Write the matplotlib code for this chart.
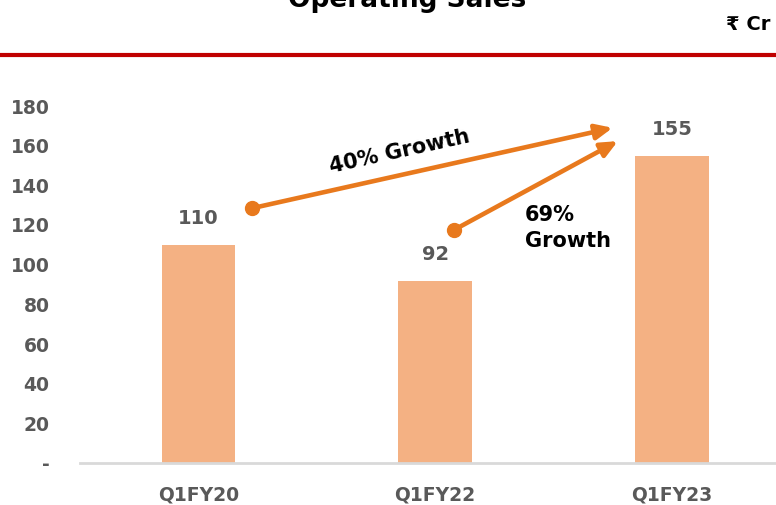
import matplotlib
matplotlib.use("Agg")
import matplotlib.pyplot as plt
from matplotlib.ticker import FuncFormatter
from matplotlib.lines import Line2D

categories = ["Q1FY20", "Q1FY22", "Q1FY23"]
sales = [110, 92, 155]
yticks = [0, 20, 40, 60, 80, 100, 120, 140, 160, 180]

bar_color = "#F4B183"
arrow_color = "#E8791D"
label_gray = "#595959"

plt.rcParams.update({
    "font.family": ["DejaVu Sans"],
    "font.weight": "bold",
})

fig = plt.figure(figsize=(7.76, 5.05), dpi=100)
ax = fig.add_axes([80 / 776, 42 / 505, 696 / 776, 357 / 505])

x = range(len(categories))
ax.bar(x, sales, width=0.31, color=bar_color, zorder=2)

for xi, v in zip(x, sales):
    ax.annotate(str(v), (xi, v), xytext=(0, 12), textcoords="offset points",
                ha="center", va="bottom", fontsize=14, fontweight="bold",
                color=label_gray)

ax.set_xlim(-0.5, 2.44)
ax.set_ylim(0, 180)
ax.set_yticks(yticks)
ax.yaxis.set_major_formatter(FuncFormatter(lambda v, p: "-" if v == 0 else f"{v:.0f}"))
ax.set_xticks(list(x))
ax.set_xticklabels(categories)
ax.tick_params(axis="y", length=0, pad=22, labelsize=13.5, labelcolor=label_gray)
ax.tick_params(axis="x", length=0, pad=16, labelsize=13.5, labelcolor=label_gray)
for lab in ax.get_xticklabels() + ax.get_yticklabels():
    lab.set_fontweight("bold")

for s in ["top", "right", "left"]:
    ax.spines[s].set_visible(False)
ax.spines["bottom"].set_color("#D9D9D9")
ax.spines["bottom"].set_linewidth(2)

# growth arrows
arrows = [((0.228, 128.5), (1.75, 169.0)), ((1.078, 117.4), (1.772, 162.3))]
for start, end in arrows:
    ax.annotate("", xy=end, xytext=start,
                arrowprops=dict(arrowstyle="-|>,head_length=1.0,head_width=0.45",
                                color=arrow_color, lw=3.3, shrinkA=0, shrinkB=0),
                annotation_clip=False, zorder=4)
    ax.plot(*start, "o", color=arrow_color, markersize=10, zorder=5, clip_on=False)

fig.text(400 / 776, 1 - 152 / 505, "40% Growth", rotation=12.5, ha="center", va="center",
         fontsize=15, fontweight="bold", color="black")
fig.text(525 / 776, 1 - 228 / 505, "69%\nGrowth", ha="left", va="center",
         fontsize=15, fontweight="bold", color="black", linespacing=1.35)

# header (title is partly cropped at the top, as in the source slide)
fig.add_artist(Line2D([0, 1], [1 - 55 / 505, 1 - 55 / 505], color="#C00000", lw=3))
fig.text(407 / 776, 1 - 13 / 505, "Operating Sales", ha="center", va="bottom",
         fontsize=19, fontweight="bold", color="black")
fig.text(770 / 776, 1 - 25 / 505, "₹ Cr", ha="right", va="center",
         fontsize=14, fontweight="bold", color="black")

fig.savefig("out.png", dpi=100)
